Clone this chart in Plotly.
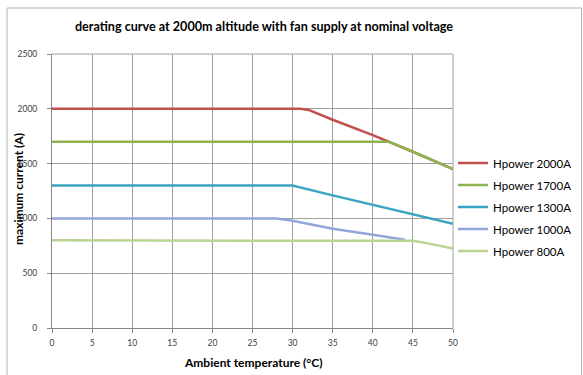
import plotly.graph_objects as go

# Series data (temperature in °C, current in A)
names = ["Hpower 2000A", "Hpower 1700A", "Hpower 1300A", "Hpower 1000A", "Hpower 800A"]

t_2000 = [0, 31, 32, 35, 40, 42, 45, 50]
i_2000 = [2000, 2000, 1990, 1900, 1760, 1700, 1608, 1450]

t_1700 = [0, 42, 45, 50]
i_1700 = [1700, 1700, 1608, 1450]

t_1300 = [0, 30, 35, 40, 45, 50]
i_1300 = [1300, 1300, 1210, 1125, 1035, 950]

t_1000 = [0, 28, 30, 35, 40, 44]
i_1000 = [1000, 1000, 978, 905, 850, 805]

t_800 = [0, 44, 45, 47, 50]
i_800 = [800, 800, 795, 770, 725]

x_ticks = list(range(0, 51, 5))
y_ticks = list(range(0, 2501, 500))

colors = ["#C0504D", "#8EB44F", "#3AA4C2", "#93A6DB", "#B9D493"]

series = [(t_2000, i_2000), (t_1700, i_1700), (t_1300, i_1300), (t_1000, i_1000), (t_800, i_800)]

fig = go.Figure()
for (x, y), n, c in zip(series, names, colors):
    fig.add_trace(go.Scatter(x=x, y=y, name=n, mode="lines", legendgroup=n,
                             line=dict(color=c, width=2.5)))

font_family = "Lato, 'Open Sans', sans-serif"
grid_c = "#A0A0A0"

W, H = 583, 375
L, R, T, B = 52, 130, 54, 47
pw, ph = W - L - R, H - T - B


def px_x(px):
    return (px - L) / pw


def px_y(py):
    return (H - B - py) / ph


fig.update_layout(
    width=W, height=H,
    margin=dict(l=L, r=R, t=T, b=B, autoexpand=False),
    paper_bgcolor="white", plot_bgcolor="white",
    font=dict(family=font_family, size=8.5, color="#404040"),
    title=dict(text="<b>derating curve at 2000m altitude with fan supply at nominal voltage</b>",
               x=264/W, xanchor="center", xref="container",
               y=1-27/H, yanchor="middle", yref="container",
               font=dict(size=12.6, color="#000000", family=font_family)),
    showlegend=True,
    legend=dict(x=453/W, xref="container", xanchor="left",
                y=(H-207)/H, yref="container", yanchor="middle",
                font=dict(size=11.5, color="#000000", family=font_family),
                tracegroupgap=3, itemwidth=30, bgcolor="rgba(0,0,0,0)"),
    xaxis=dict(range=[0, 50], tickvals=x_ticks, showgrid=True, gridcolor=grid_c, gridwidth=1,
               showline=True, linecolor="#868686", mirror=False, ticks="outside", ticklen=4,
               tickcolor="#868686", zeroline=False, fixedrange=True, automargin=False,
               ticklabelstandoff=3),
    yaxis=dict(range=[0, 2500], tickvals=y_ticks, showgrid=True, gridcolor=grid_c, gridwidth=1,
               showline=True, linecolor="#868686", ticks="outside", ticklen=4,
               tickcolor="#868686", zeroline=False, fixedrange=True, automargin=False,
               ticklabelstandoff=8),
    annotations=[
        dict(text="<b>Ambient temperature (°C)</b>", xref="paper", yref="paper",
             x=px_x(253), y=px_y(362), xanchor="center", yanchor="middle", showarrow=False,
             font=dict(size=12, color="#000000")),
        dict(text="<b>maximum current (A)</b>", xref="paper", yref="paper",
             x=px_x(18), y=px_y(189), xanchor="center", yanchor="middle", showarrow=False,
             textangle=-90, font=dict(size=12, color="#000000")),
    ],
    shapes=[dict(type="line", xref="paper", yref="paper", x0=1, x1=1, y0=0, y1=1,
                 line=dict(color=grid_c, width=1)),
            dict(type="line", xref="paper", yref="paper", x0=0, x1=1, y0=1, y1=1,
                 line=dict(color=grid_c, width=1)),
            dict(type="rect", xref="paper", yref="paper",
                 x0=px_x(7), x1=px_x(581.5), y0=px_y(380), y1=px_y(8),
                 line=dict(color="#B4B4B4", width=1), layer="below")],
)

fig.write_html("out.html", config={"displayModeBar": False},
               post_script="document.body.style.margin='0';")
